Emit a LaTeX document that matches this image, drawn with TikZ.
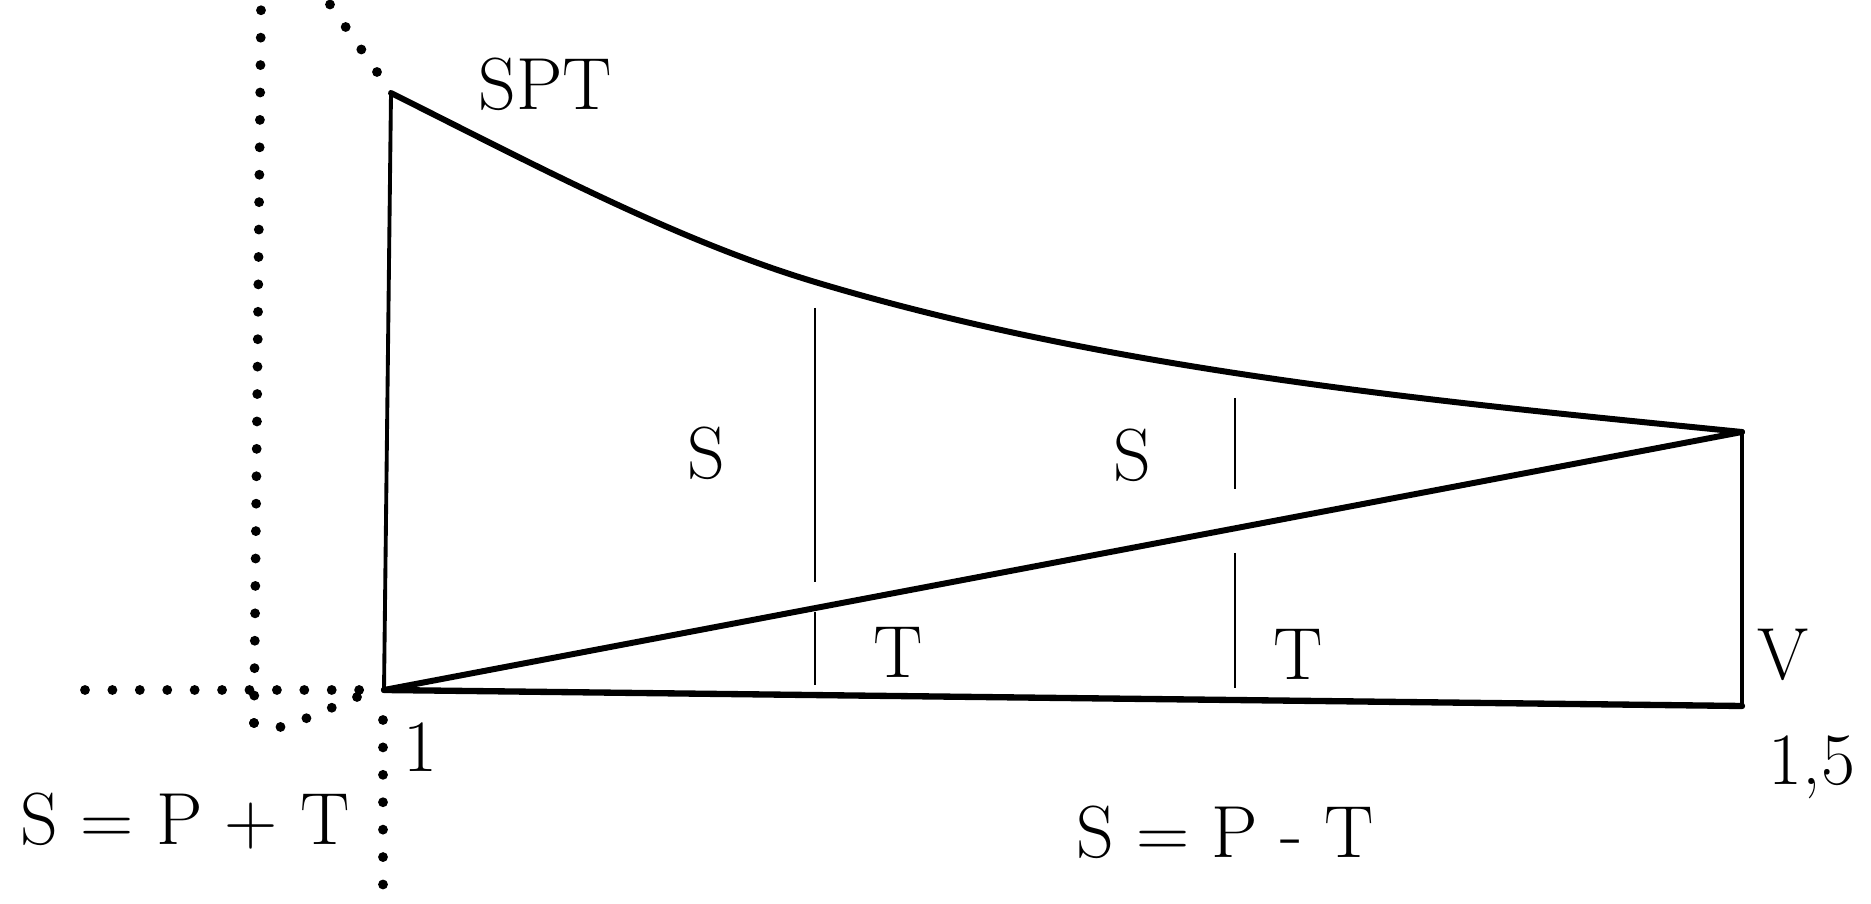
\documentclass[tikz,border=0pt]{standalone}
\usepackage{tikz}

\tikzset{
    grosso/.style={line width=1.7pt, line join=round, line cap=round},
    fino/.style={line width=0.6pt},
    pontos/.style={line width=2.8pt, line cap=round, dash pattern=on 0pt off 7.8pt},
    rotulo/.style={font=\fontsize{21}{25}\selectfont, anchor=base, inner sep=0pt}
}

\begin{document}
\begin{tikzpicture}
    \useasboundingbox (0,0) rectangle (18.71,9.04);

    % Vertices
    \coordinate (A) at (3.91,8.11);
    \coordinate (M) at (8.15,6.22);
    \coordinate (O) at (3.84,2.14);
    \coordinate (B) at (17.42,4.72);
    \coordinate (C) at (17.42,1.98);

    % Contorno
    \draw[line width=1.1pt] (O) -- (A);
    \draw[grosso] (A) .. controls (5.31,7.41) and (6.75,6.64) .. (M)
                      .. controls (11.15,5.32) and (14.42,5.02) .. (B);
    \draw[grosso] (O) -- (B);
    \draw[grosso, line width=1.8pt] (O) -- (C);
    \draw[grosso, line width=1.4pt] (B) -- (C);

    % Divisoes S / T
    \foreach \x/\ya/\yb in {8.15/5.96/3.22, 8.15/2.92/2.19, 12.35/5.06/4.15, 12.35/3.51/2.16}
        \draw[fino] (\x,\ya) -- (\x,\yb);

    % Linhas pontilhadas
    \draw[pontos] (2.54,1.81) -- (2.61,8.94);
    \draw[pontos] (0.85,2.14) -- (3.594,2.14);
    \draw[pontos] (3.77,8.32) -- (3.22,9.11);
    \draw[pontos] (2.54,1.81) .. controls (2.75,1.72) .. (3.57,2.07);
    \draw[pontos] (3.83,1.84) -- (3.83,0.09);

    % Rotulos
    \node[rotulo] (spt) at (5.45,7.94) {SPT};
    \node[rotulo] (s1) at (7.06,4.25) {S};
    \node[rotulo] (s2) at (11.32,4.23) {S};
    \node[rotulo] (t1) at (8.98,2.26) {T};
    \node[rotulo] (t2) at (12.98,2.24) {T};
    \node[rotulo] (v) at (17.83,2.24) {V};
    \node[rotulo] (um) at (4.20,1.32) {1};
    \node[rotulo] (umcinco) at (18.12,1.19) {1,5};
    \node[rotulo] (soma) at (1.85,0.59) {S = P + T};
    \node[rotulo] (dif) at (12.25,0.46) {S = P - T};
\end{tikzpicture}
\end{document}
